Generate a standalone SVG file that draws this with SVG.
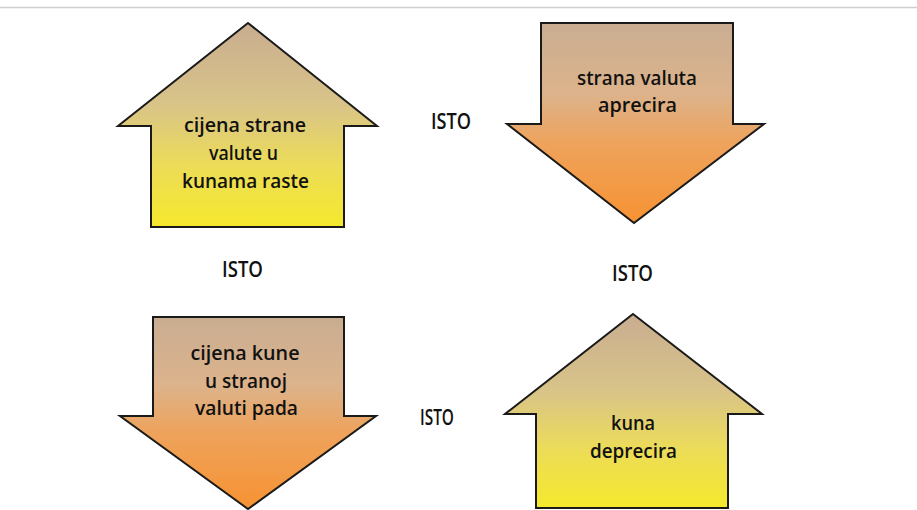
<svg xmlns="http://www.w3.org/2000/svg" width="917" height="510" viewBox="0 0 917 510">
<defs>
<linearGradient id="gUp" x1="0" y1="0" x2="0" y2="1">
<stop offset="0" stop-color="#c8ad90"/>
<stop offset="0.4" stop-color="#d9c488"/>
<stop offset="0.7" stop-color="#ecdc58"/>
<stop offset="1" stop-color="#f6e92c"/>
</linearGradient>
<linearGradient id="gDown" x1="0" y1="0" x2="0" y2="1">
<stop offset="0" stop-color="#c9ad91"/>
<stop offset="0.35" stop-color="#dcb38c"/>
<stop offset="0.6" stop-color="#eea35c"/>
<stop offset="1" stop-color="#f79232"/>
</linearGradient>
<style>
.arrow{stroke:#1a1a1a;stroke-width:2;stroke-linejoin:miter}
.up{fill:url(#gUp)}
.down{fill:url(#gDown)}
.t{font-family:"Open Sans","DejaVu Sans",sans-serif;font-size:20px;font-weight:600;fill:#111;text-anchor:middle}
.isto{font-family:"Open Sans","DejaVu Sans",sans-serif;font-size:21px;font-weight:600;fill:#111;text-anchor:middle}
</style>
</defs>
<rect width="917" height="510" fill="#ffffff"/>
<line x1="0" y1="7.5" x2="917" y2="7.5" stroke="#cfcfcf" stroke-width="1.5"/>

<g id="node-cijena-strane-valute">
<polygon class="arrow up" points="248,23 377,126 344,126 344,227 151,227 151,126 118,126"/>
<text class="t" x="245" y="132" textLength="122" lengthAdjust="spacingAndGlyphs">cijena strane</text>
<text class="t" x="243.5" y="160" textLength="69" lengthAdjust="spacingAndGlyphs">valute u</text>
<text class="t" x="245.5" y="188" textLength="127" lengthAdjust="spacingAndGlyphs">kunama raste</text>
</g>

<g id="node-strana-valuta-aprecira">
<polygon class="arrow down" points="541,23 733,23 733,124 764,124 634,223 507,124 541,124"/>
<text class="t" x="637" y="85" textLength="120" lengthAdjust="spacingAndGlyphs">strana valuta</text>
<text class="t" x="637.5" y="112" textLength="79" lengthAdjust="spacingAndGlyphs">aprecira</text>
</g>

<g id="node-cijena-kune">
<polygon class="arrow down" points="153,317 344,317 344,416 376,416 248,509 120,416 153,416"/>
<text class="t" x="245" y="360" textLength="109" lengthAdjust="spacingAndGlyphs">cijena kune</text>
<text class="t" x="246" y="387.5" textLength="82" lengthAdjust="spacingAndGlyphs">u stranoj</text>
<text class="t" x="246.5" y="415" textLength="103" lengthAdjust="spacingAndGlyphs">valuti pada</text>
</g>

<g id="node-kuna-deprecira">
<polygon class="arrow up" points="633,314 762,414 728,414 728,508 536,508 536,414 505,414"/>
<text class="t" x="633" y="430" textLength="44" lengthAdjust="spacingAndGlyphs">kuna</text>
<text class="t" x="633.5" y="458" textLength="87" lengthAdjust="spacingAndGlyphs">deprecira</text>
</g>

<g id="connectors">
<text class="isto" x="451" y="129" textLength="40" lengthAdjust="spacingAndGlyphs">ISTO</text>
<text class="isto" x="242.5" y="277" textLength="41" lengthAdjust="spacingAndGlyphs">ISTO</text>
<text class="isto" x="632.5" y="281" textLength="41" lengthAdjust="spacingAndGlyphs">ISTO</text>
<text class="isto" x="437" y="425" textLength="34" lengthAdjust="spacingAndGlyphs">ISTO</text>
</g>
</svg>
